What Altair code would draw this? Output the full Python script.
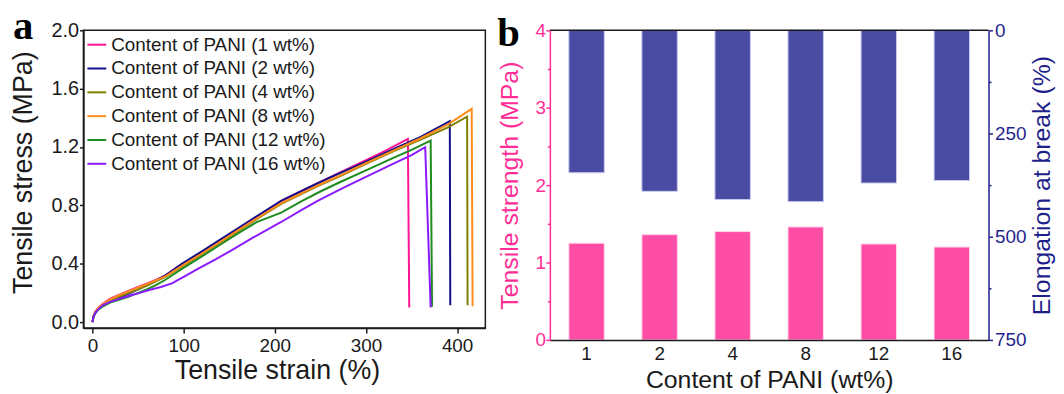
import altair as alt
import pandas as pd

FONT = "Liberation Sans"
SERIF = "Liberation Serif"
PINK = "#FF2D95"
NAVY = "#1F1F8C"
DARK = "#1a1a1a"

# ---------------- panel a data ----------------
series_names = [
    "Content of PANI (1 wt%)",
    "Content of PANI (2 wt%)",
    "Content of PANI (4 wt%)",
    "Content of PANI (8 wt%)",
    "Content of PANI (12 wt%)",
    "Content of PANI (16 wt%)",
]
series_colors = ["#FF1493", "#10108A", "#808000", "#FF8C1A", "#1E8C1E", "#8A1AFF"]

strain_1 = [0, 1, 3, 6, 10, 15, 20, 30, 40, 50, 60, 70, 80, 98, 120, 140, 160, 180, 207, 230, 250, 270, 300, 320, 346, 347.5]
stress_1 = [0, 0.04, 0.07, 0.095, 0.118, 0.142, 0.162, 0.19, 0.215, 0.24, 0.265, 0.29, 0.32, 0.395, 0.48, 0.56, 0.64, 0.72, 0.83, 0.9, 0.96, 1.02, 1.11, 1.17, 1.256, 0.10]

strain_2 = [0, 1, 3, 6, 10, 15, 20, 30, 40, 50, 60, 70, 80, 98, 120, 140, 160, 180, 207, 230, 250, 270, 300, 330, 360, 392, 392.5]
stress_2 = [0, 0.04, 0.068, 0.09, 0.108, 0.127, 0.142, 0.17, 0.195, 0.225, 0.255, 0.285, 0.32, 0.40, 0.485, 0.565, 0.645, 0.725, 0.83, 0.9, 0.96, 1.017, 1.10, 1.185, 1.27, 1.377, 0.116]

strain_4 = [0, 1, 3, 6, 10, 15, 20, 30, 40, 50, 60, 70, 80, 98, 120, 140, 160, 180, 207, 230, 250, 270, 300, 330, 360, 390, 411, 411.5]
stress_4 = [0, 0.035, 0.063, 0.087, 0.106, 0.126, 0.145, 0.175, 0.2, 0.225, 0.25, 0.28, 0.31, 0.38, 0.465, 0.545, 0.625, 0.705, 0.81, 0.88, 0.94, 0.995, 1.085, 1.17, 1.25, 1.335, 1.408, 0.116]

strain_8 = [0, 1, 3, 6, 10, 15, 20, 30, 40, 50, 60, 70, 80, 98, 120, 140, 160, 180, 207, 230, 250, 270, 300, 330, 360, 390, 416, 417]
stress_8 = [0, 0.04, 0.07, 0.095, 0.117, 0.138, 0.157, 0.187, 0.212, 0.237, 0.262, 0.287, 0.313, 0.385, 0.47, 0.55, 0.63, 0.71, 0.815, 0.885, 0.945, 1.0, 1.09, 1.175, 1.26, 1.355, 1.461, 0.109]

strain_12 = [0, 1, 3, 6, 10, 15, 20, 30, 40, 50, 60, 70, 80, 98, 120, 140, 160, 180, 207, 230, 250, 270, 300, 330, 350, 371, 372.5]
stress_12 = [0, 0.035, 0.06, 0.083, 0.102, 0.12, 0.135, 0.155, 0.175, 0.2, 0.225, 0.255, 0.29, 0.365, 0.45, 0.53, 0.61, 0.685, 0.75, 0.83, 0.895, 0.955, 1.04, 1.125, 1.18, 1.244, 0.105]

strain_16 = [0, 1, 3, 6, 11, 18, 25, 35, 43, 52, 62, 75, 87, 100, 116, 135, 152, 175, 207, 230, 248, 275, 300, 325, 350, 365, 371]
stress_16 = [0, 0.035, 0.062, 0.085, 0.115, 0.135, 0.15, 0.17, 0.185, 0.2, 0.22, 0.24, 0.265, 0.31, 0.367, 0.43, 0.49, 0.575, 0.686, 0.77, 0.834, 0.92, 0.995, 1.07, 1.145, 1.199, 0.10]

all_strain = [strain_1, strain_2, strain_4, strain_8, strain_12, strain_16]
all_stress = [stress_1, stress_2, stress_4, stress_8, stress_12, stress_16]

rows = []
for name, xs, ys in zip(series_names, all_strain, all_stress):
    for i, (xv, yv) in enumerate(zip(xs, ys)):
        rows.append({"series": name, "strain": xv, "stress": yv, "idx": i})
curves = pd.DataFrame(rows)

# ---------------- panel b data ----------------
contents = ["1", "2", "4", "8", "12", "16"]
strength = [1.25, 1.36, 1.40, 1.46, 1.24, 1.20]
elongation = [345, 390, 410, 415, 370, 364]
bars = pd.DataFrame({"content": contents, "strength": strength, "elongation": elongation})

strength_ticks = [0, 0.5, 1, 1.5, 2, 2.5, 3, 3.5, 4]
elongation_ticks = [0, 125, 250, 375, 500, 625, 750]

# ---------------- panel a ----------------
lines = alt.Chart(curves).mark_line(strokeWidth=2).encode(
    x=alt.X(
        "strain:Q",
        scale=alt.Scale(domain=[-10, 431], nice=False, zero=False),
        axis=alt.Axis(
            values=[0, 100, 200, 300, 400], title="Tensile strain (%)", titleX=195,
            titleFont=FONT, titleFontSize=27, titleFontWeight="normal", titleColor=DARK, titlePadding=2,
            labelFont=FONT, labelFontSize=19, labelColor=DARK, labelPadding=4,
            tickSize=5, tickWidth=1.5, tickColor=DARK, domainColor=DARK, domainWidth=1.5,
            grid=False, zindex=1,
        ),
    ),
    y=alt.Y(
        "stress:Q",
        scale=alt.Scale(domain=[-0.041, 2.0], nice=False, zero=False),
        axis=alt.Axis(
            values=[0, 0.4, 0.8, 1.2, 1.6, 2.0], format=".1f", title="Tensile stress (MPa)", titleY=143,
            titleFont=FONT, titleFontSize=27, titleFontWeight="normal", titleColor=DARK, titlePadding=14,
            labelFont=FONT, labelFontSize=20, labelColor=DARK, labelPadding=1,
            tickSize=4, tickWidth=1.5, tickColor=DARK, domainColor=DARK, domainWidth=1.5,
            grid=False, zindex=1,
        ),
    ),
    color=alt.Color(
        "series:N",
        sort=series_names,
        scale=alt.Scale(domain=series_names, range=series_colors),
        legend=alt.Legend(
            title=None, orient="none", legendX=3, legendY=4, padding=0,
            symbolType="stroke", symbolSize=361, symbolStrokeWidth=2,
            labelFont=FONT, labelFontSize=19, labelColor=DARK, labelOffset=4, rowPadding=3,
            labelLimit=0,
        ),
    ),
    order="idx:Q",
)

letter_a = alt.Chart(pd.DataFrame({"t": ["a"]})).mark_text(
    font=SERIF, fontWeight="bold", fontSize=41, align="left", baseline="alphabetic", color="black"
).encode(text="t:N", x=alt.value(-71), y=alt.value(9))

panel_a = alt.layer(lines, letter_a).properties(
    width=405, height=300, view=alt.ViewBackground(stroke=DARK, strokeWidth=1.5)
)

# ---------------- panel b ----------------
x_b = alt.X(
    "content:N", sort=contents,
    scale=alt.Scale(paddingInner=0.515, paddingOuter=0.26),
    axis=alt.Axis(
        title="Content of PANI (wt%)", labelAngle=0, ticks=False, labelPadding=5,
        titleFont=FONT, titleFontSize=25, titleFontWeight="normal", titleColor=DARK, titlePadding=4,
        labelFont=FONT, labelFontSize=19, labelColor=DARK,
        domainColor=DARK, domainWidth=1.5, zindex=1,
    ),
)

pink_bars = alt.Chart(bars).mark_bar(color="#FF4DA6", stroke="#FFD6EA", strokeWidth=1).encode(
    x=x_b,
    y=alt.Y(
        "strength:Q",
        scale=alt.Scale(domain=[0, 4], nice=False),
        axis=alt.Axis(
            orient="left", values=strength_ticks, title="Tensile strength (MPa)",
            labelExpr="datum.value % 1 === 0 ? format(datum.value, 'd') : ''",
            titleFont=FONT, titleFontSize=25, titleFontWeight="normal", titleColor=PINK, titlePadding=12.5,
            labelFont=FONT, labelFontSize=19, labelColor=PINK, labelPadding=0.5,
            tickSize={"condition": {"test": "datum.value % 1 !== 0", "value": 2.5}, "value": 4},
            tickWidth=1.5, tickColor=PINK, domainColor=PINK, domainWidth=1.5,
            grid=False, zindex=1,
        ),
    ),
)

blue_bars = alt.Chart(bars).mark_bar(color="#4A4CA3", stroke="#C9CAEE", strokeWidth=1).encode(
    x=x_b,
    y=alt.Y(
        "elongation:Q",
        scale=alt.Scale(domain=[0, 750], reverse=True, nice=False),
        axis=alt.Axis(
            orient="right", values=elongation_ticks, title="Elongation at break (%)",
            labelExpr="datum.value % 250 === 0 ? format(datum.value, 'd') : ''",
            titleAngle=270, titleBaseline="top",
            titleFont=FONT, titleFontSize=25, titleFontWeight="normal", titleColor=NAVY, titlePadding=4,
            labelFont=FONT, labelFontSize=19, labelColor=NAVY, labelPadding=2,
            tickSize={"condition": {"test": "datum.value % 250 !== 0", "value": 2.5}, "value": 4},
            tickWidth=1.5, tickColor=NAVY, domainColor=NAVY, domainWidth=1.5,
            grid=False, zindex=1,
        ),
    ),
)

top_rule = alt.Chart(pd.DataFrame({"r": [0]})).mark_rule(color=DARK, strokeWidth=1.5).encode(
    y=alt.value(0)
)

letter_b = alt.Chart(pd.DataFrame({"t": ["b"]})).mark_text(
    font=SERIF, fontWeight="bold", fontSize=41, align="left", baseline="alphabetic", color="black"
).encode(text="t:N", x=alt.value(-53), y=alt.value(16))

panel_b = alt.layer(blue_bars, pink_bars, top_rule, letter_b).resolve_scale(y="independent").properties(
    width=442, height=312
)

chart = alt.hconcat(panel_a, panel_b, spacing=65, bounds="flush").properties(
    padding={"left": 0, "top": -4, "right": 0, "bottom": 0}
).configure_view(stroke="transparent")

chart.save("out.html", embed_options={"renderer": "svg", "actions": False})
